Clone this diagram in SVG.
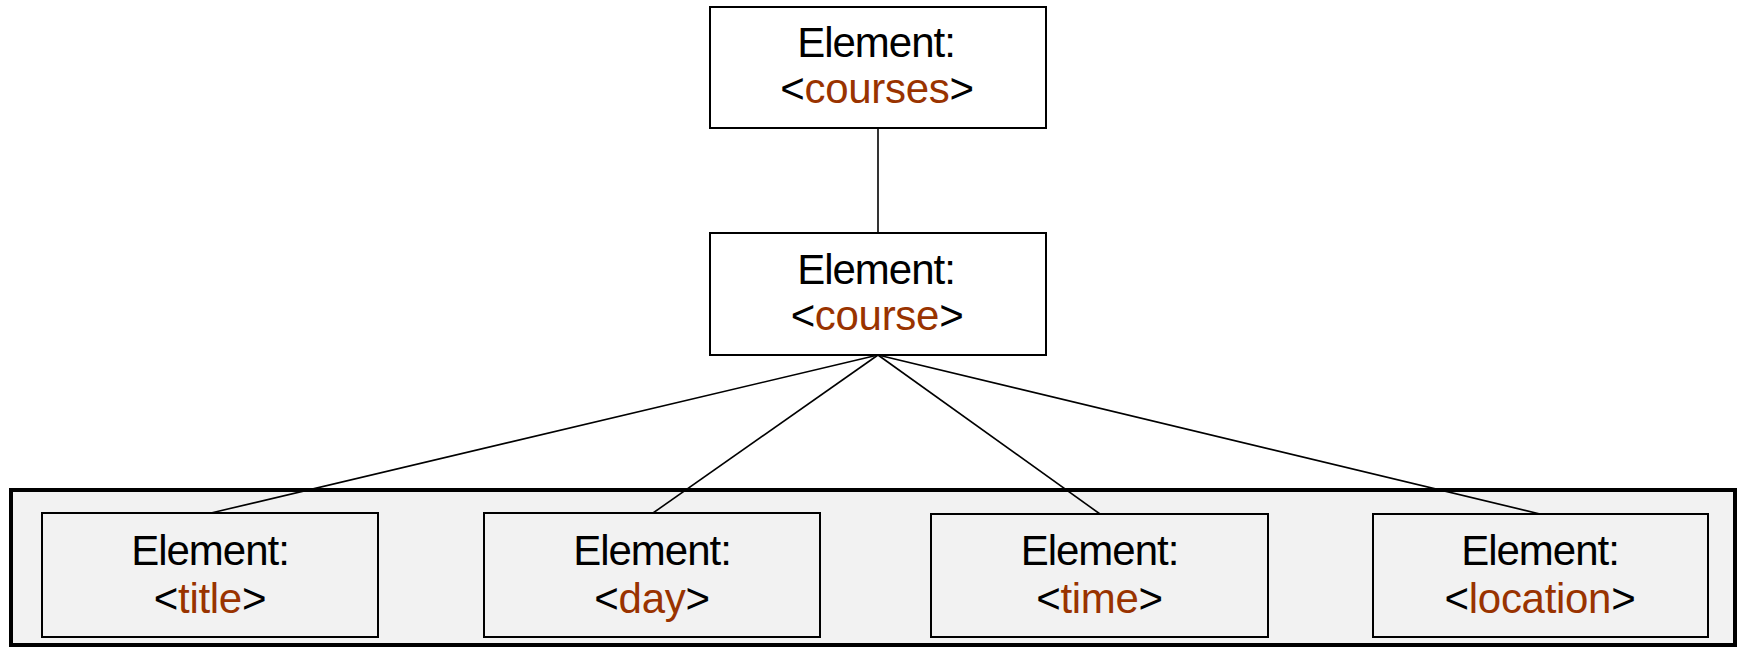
<svg xmlns="http://www.w3.org/2000/svg" width="1741" height="656" viewBox="0 0 1741 656">
<style>
  .box { fill: #ffffff; stroke: #000000; stroke-width: 2; }
  .inner { fill: #f2f2f2; stroke: #000000; stroke-width: 2; }
  .group { fill: #f2f2f2; stroke: #000000; stroke-width: 4; }
  .lbl { font-family: "Liberation Sans", Arial, sans-serif; font-size: 42px; fill: #000000; text-anchor: middle; }
  .l1 { letter-spacing: -1px; }
  .l2 { letter-spacing: -0.3px; }
  .nm { fill: #993300; }
  .conn { stroke: #000000; stroke-width: 1.6; fill: none; }
</style>
<rect id="group-children" class="group" x="11" y="490" width="1724" height="155"/>
<g id="node-courses">
  <rect class="box" x="710" y="7" width="336" height="121"/>
  <text class="lbl l1" x="876" y="57">Element:</text>
  <text class="lbl l2" x="877" y="103">&lt;<tspan class="nm">courses</tspan>&gt;</text>
</g>
<g id="node-course">
  <rect class="box" x="710" y="233" width="336" height="122"/>
  <text class="lbl l1" x="876" y="284">Element:</text>
  <text class="lbl l2" x="877" y="330">&lt;<tspan class="nm">course</tspan>&gt;</text>
</g>
<g id="node-title">
  <rect class="inner" x="42" y="513" width="336" height="124"/>
  <text class="lbl l1" x="210" y="565">Element:</text>
  <text class="lbl l2" x="210" y="613">&lt;<tspan class="nm">title</tspan>&gt;</text>
</g>
<g id="node-day">
  <rect class="inner" x="484" y="513" width="336" height="124"/>
  <text class="lbl l1" x="652" y="565">Element:</text>
  <text class="lbl l2" x="652" y="613">&lt;<tspan class="nm">day</tspan>&gt;</text>
</g>
<g id="node-time">
  <rect class="inner" x="931" y="514" width="337" height="123"/>
  <text class="lbl l1" x="1099.5" y="565">Element:</text>
  <text class="lbl l2" x="1099.5" y="613">&lt;<tspan class="nm">time</tspan>&gt;</text>
</g>
<g id="node-location">
  <rect class="inner" x="1373" y="514" width="335" height="123"/>
  <text class="lbl l1" x="1540" y="565">Element:</text>
  <text class="lbl l2" x="1540" y="613">&lt;<tspan class="nm">location</tspan>&gt;</text>
</g>
<g id="connectors">
  <line class="conn" x1="878" y1="128" x2="878" y2="233"/>
  <line class="conn" x1="878" y1="355" x2="211" y2="513"/>
  <line class="conn" x1="878" y1="355" x2="653" y2="513"/>
  <line class="conn" x1="878" y1="355" x2="1100" y2="514"/>
  <line class="conn" x1="878" y1="355" x2="1540" y2="514"/>
</g>
</svg>
